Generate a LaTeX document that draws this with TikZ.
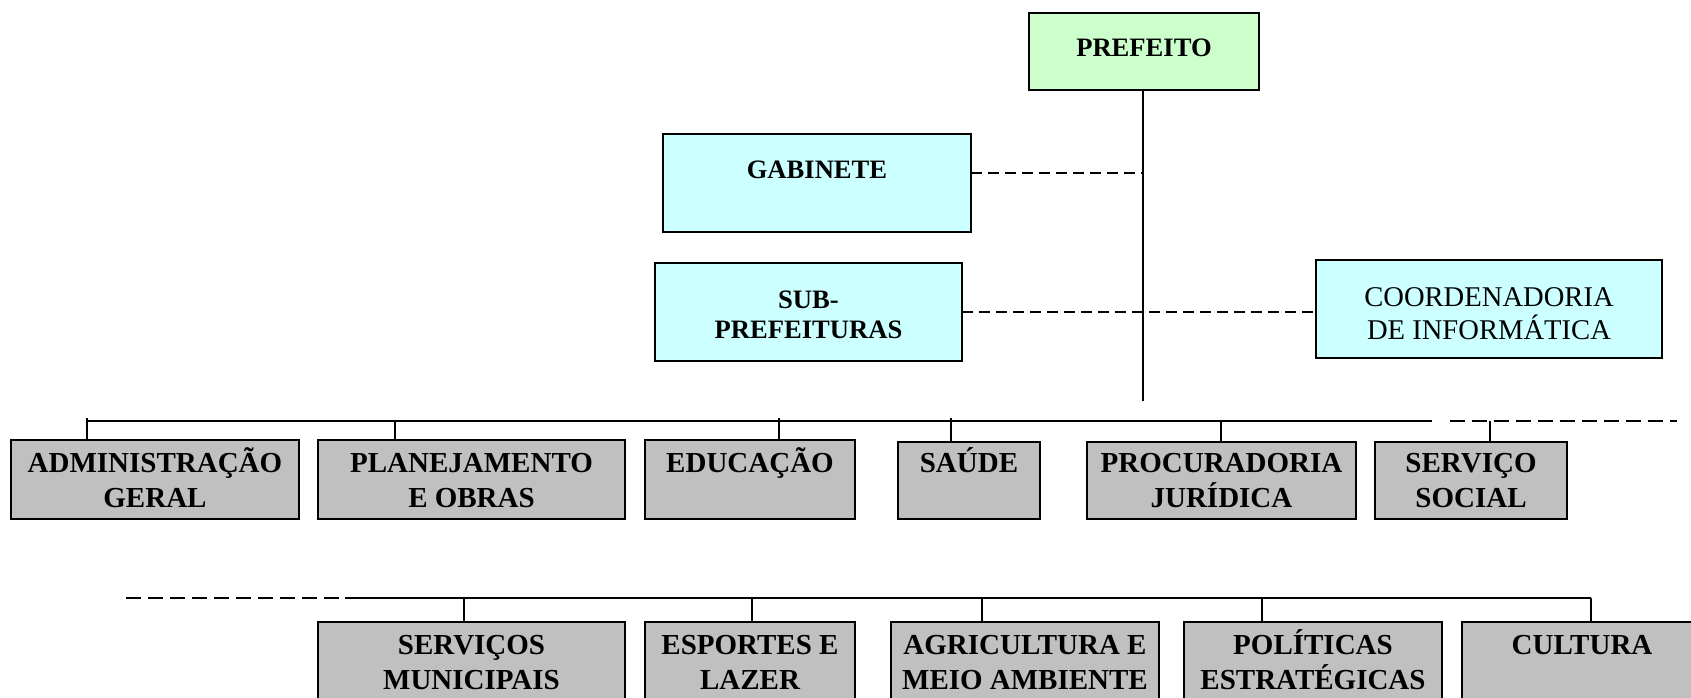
\documentclass[tikz,border=0pt]{standalone}
\usepackage{fontspec}
\setmainfont{Liberation Serif}
\definecolor{greenfill}{HTML}{CCFFCC}
\definecolor{cyanfill}{HTML}{CCFFFF}
\definecolor{grayfill}{HTML}{C0C0C0}
\newcommand\bc[4]{\parbox[c][#2pt][t]{#1pt}{\centering\rule{0pt}{#3pt}#4}}
\tikzset{
  orgbox/.style={draw=black, line width=1pt, inner sep=0pt, outer sep=0pt, anchor=north west},
  headbox/.style={orgbox, fill=greenfill, font=\fontsize{13.3}{15}\selectfont\bfseries},
  staffbox/.style={orgbox, fill=cyanfill, font=\fontsize{13.3}{15}\selectfont\bfseries},
  coordbox/.style={orgbox, fill=cyanfill, font=\fontsize{14.3}{16.5}\selectfont},
  deptbox/.style={orgbox, fill=grayfill, font=\fontsize{14.5}{17.5}\selectfont\bfseries},
  link/.style={line width=0.9pt},
  dlink/.style={line width=0.9pt, dash pattern=on 5.5pt off 3pt},
  dbus/.style={line width=0.9pt, dash pattern=on 7.5pt off 3.5pt}
}
\begin{document}
\begin{tikzpicture}[x=0.5pt,y=-0.5pt]
\useasboundingbox (0,0) rectangle (1691,697);
\clip (0,0) rectangle (1691,697);
% top level
\node[headbox]  (pref)  at (1029,13)  {\bc{115}{38.5}{21.5}{PREFEITO}};
\node[staffbox] (gab)   at (663,134)  {\bc{154}{49}{22}{GABINETE}};
\node[staffbox] (sub)   at (655,263)  {\bc{153.5}{49}{22.5}{SUB-\\PREFEITURAS}};
\node[coordbox] (coord) at (1316,260) {\bc{173}{49}{23}{COORDENADORIA\\DE INFORMÁTICA}};
% first row
\node[deptbox] (adm)  at (11,440)   {\bc{144}{39.5}{16}{ADMINISTRAÇÃO\\GERAL}};
\node[deptbox] (plan) at (318,440)  {\bc{153.5}{39.5}{16}{PLANEJAMENTO\\E OBRAS}};
\node[deptbox] (edu)  at (645,440)  {\bc{105}{39.5}{16}{EDUCAÇÃO}};
\node[deptbox] (sau)  at (898,442)  {\bc{71}{38.5}{15}{SAÚDE}};
\node[deptbox] (proc) at (1087,442) {\bc{134.5}{38.5}{15}{PROCURADORIA\\JURÍDICA}};
\node[deptbox] (soc)  at (1375,442) {\bc{96}{38.5}{15}{SERVIÇO\\SOCIAL}};
% second row
\node[deptbox] (mun)  at (318,622)  {\bc{153.5}{50}{16}{SERVIÇOS\\MUNICIPAIS}};
\node[deptbox] (esp)  at (645,622)  {\bc{105}{50}{16}{ESPORTES E\\LAZER}};
\node[deptbox] (agr)  at (891,622)  {\bc{134}{50}{16}{AGRICULTURA E\\MEIO AMBIENTE}};
\node[deptbox] (pol)  at (1184,622) {\bc{129}{50}{16}{POLÍTICAS\\ESTRATÉGICAS}};
\node[deptbox] (cul)  at (1462,622) {\bc{120}{50}{16}{CULTURA}};
% main vertical line
\coordinate (vend) at (1143,401);
\draw[link] (pref.south -| vend) -- (vend);
% staff links
\coordinate (gj) at (1143,173);
\draw[dlink] (gab.east |- gj) -- (gj);
\draw[dlink] (sub.east) -- (sub.east -| coord.west);
% first bus
\coordinate (b1L) at (87,421);
\coordinate (b1R) at (1432,421);
\coordinate (b1dL) at (1450,421);
\coordinate (b1dR) at (1677,421);
\draw[link] (b1L) -- (b1R);
\draw[dbus] (b1dL) -- (b1dR);
\coordinate (s1) at (87,418);
\coordinate (s2) at (395,421);
\coordinate (s3) at (779,418);
\coordinate (s4) at (951,418);
\coordinate (s5) at (1221,421);
\coordinate (s6) at (1490,421);
\draw[link] (s1) -- (s1 |- adm.north);
\draw[link] (s2) -- (s2 |- plan.north);
\draw[link] (s3) -- (s3 |- edu.north);
\draw[link] (s4) -- (s4 |- sau.north);
\draw[link] (s5) -- (s5 |- proc.north);
\draw[link] (s6) -- (s6 |- soc.north);
% second bus
\coordinate (b2dL) at (126,598);
\coordinate (b2L) at (345,598);
\coordinate (b2R) at (1591,598);
\draw[dbus] (b2dL) -- (b2L);
\draw[link] (b2L) -- (b2R);
\coordinate (t1) at (464,598);
\coordinate (t2) at (752,598);
\coordinate (t3) at (982,598);
\coordinate (t4) at (1262,598);
\draw[link] (t1) -- (t1 |- mun.north);
\draw[link] (t2) -- (t2 |- esp.north);
\draw[link] (t3) -- (t3 |- agr.north);
\draw[link] (t4) -- (t4 |- pol.north);
\draw[link] (b2R) -- (b2R |- cul.north);
\end{tikzpicture}
\end{document}
